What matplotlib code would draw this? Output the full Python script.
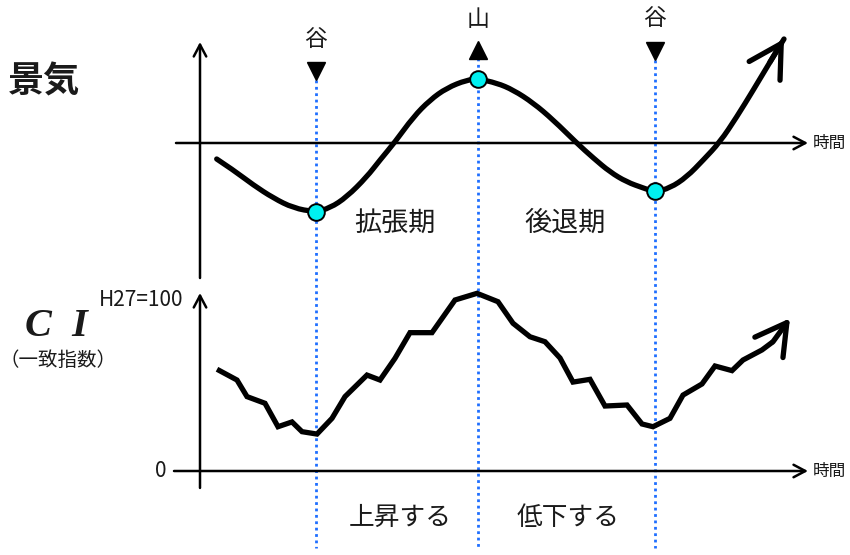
import matplotlib
matplotlib.use('Agg')
import matplotlib.pyplot as plt
from matplotlib.path import Path
from matplotlib.patches import PathPatch

plt.rcParams['font.family'] = ['Noto Sans CJK JP', 'DejaVu Sans']

# ---- data ----
# business-cycle curve: time, level (0 = time axis)
keiki_t = [1.67, 3.33, 5.33, 7.33, 9.33, 11.5, 13.0, 14.67, 16.67, 18.0, 19.5, 21.33,
           23.0, 24.67, 26.67, 27.83, 29.67, 31.33, 33.33, 35.33, 37.67, 39.33, 41.0,
           42.67, 44.33, 45.5, 47.0, 48.67, 50.33, 52.0, 53.67, 55.33, 57.0, 58.4]
keiki_v = [-0.16, -0.27, -0.42, -0.55, -0.65, -0.69, -0.65, -0.54, -0.34, -0.17, 0.01, 0.26,
           0.43, 0.55, 0.63, 0.64, 0.60, 0.53, 0.40, 0.23, 0.00, -0.15, -0.29,
           -0.39, -0.45, -0.49, -0.45, -0.34, -0.17, 0.01, 0.26, 0.53, 0.81, 1.04]

# CI (coincident index), H27 = 100
ci_t = [1.7, 3.7, 4.7, 6.5, 7.8, 9.2, 10.2, 11.7, 13.2, 14.5, 16.7, 18.0, 19.5, 21.0,
        23.2, 25.5, 27.7, 29.8, 31.3, 33.0, 34.5, 36.0, 37.3, 39.0, 40.5, 42.7, 44.2,
        45.3, 47.0, 48.3, 50.2, 51.5, 53.2, 54.3, 56.2, 57.3, 59.0]
ci_v = [59.5, 53.2, 43.5, 39.6, 25.9, 28.7, 23.0, 21.6, 30.8, 43.5, 56.1, 53.2, 65.9, 80.9,
        80.9, 100.0, 103.9, 99.0, 86.4, 78.5, 75.6, 66.1, 52.0, 53.6, 38.0, 38.6, 27.5,
        25.9, 30.8, 44.4, 50.9, 61.4, 58.7, 64.9, 70.8, 75.6, 89.3]

# turning points
turn_t = [11.6, 27.8, 45.5]
turn_level = [-0.69, 0.64, -0.48]
turn_labels = ['谷', '山', '谷']
turn_marker = ['v', '^', 'v']

ci_ticks = [0, 100]
ci_ticklabels = ['0', 'H27=100']

W, H = 850, 555
fig = plt.figure(figsize=(W / 100, H / 100), dpi=100)
fig.patch.set_facecolor('white')


def px(x, y):
    return x / W, 1 - y / H


ax1 = fig.add_axes([0, 0, 1, 1])
ax1.set_xlim(-20, 65)
ax1.set_ylim(-4.12, 1.43)
ax1.axis('off')
ax1.patch.set_alpha(0)

ax2 = fig.add_axes([0, 0, 1, 1])
ax2.set_xlim(-20, 65)
ax2.set_ylim(-49.12, 275.44)
ax2.axis('off')
ax2.patch.set_alpha(0)


def axis_arrow(ax, start, end, lw=1.8):
    ax.annotate('', xy=end, xytext=start,
                arrowprops=dict(arrowstyle='->,head_length=0.85,head_width=0.45',
                                lw=lw, color='black', shrinkA=0, shrinkB=0,
                                mutation_scale=10))


def smooth_path(xs, ys):
    pts = list(zip(xs, ys))
    verts = [pts[0]]
    codes = [Path.MOVETO]
    for i in range(1, len(pts) - 2):
        mid = ((pts[i][0] + pts[i + 1][0]) / 2, (pts[i][1] + pts[i + 1][1]) / 2)
        verts += [pts[i], mid]
        codes += [Path.CURVE3, Path.CURVE3]
    verts += [pts[-2], pts[-1]]
    codes += [Path.CURVE3, Path.CURVE3]
    return Path(verts, codes)


TXT = '#1a1a1a'

# ---- top panel: 景気 ----
axis_arrow(ax1, (0, -1.35), (0, 1.01))
axis_arrow(ax1, (-2.4, 0), (60.8, 0))
ax1.text(61.3, 0, '時間', ha='left', va='center', fontsize=12, color=TXT)

# dotted turning-point lines
line_top = [0.63, 0.85, 0.83]
for t, top in zip(turn_t, line_top):
    ax1.plot([t, t], [top, -4.05], linestyle=(0, (1, 1.3)), lw=2.0,
             color='#1f6fff', zorder=1)

patch = PathPatch(smooth_path(keiki_t, keiki_v), facecolor='none', edgecolor='black',
                  lw=3.8, capstyle='round', joinstyle='round', zorder=3)
ax1.add_patch(patch)
ax1.annotate('', xy=(keiki_t[-1], keiki_v[-1]), xytext=(keiki_t[-2], keiki_v[-2]),
             arrowprops=dict(arrowstyle='->,head_length=2.3,head_width=1.3', lw=3.8,
                             color='black', shrinkA=0, shrinkB=0, mutation_scale=10,
                             capstyle='round', joinstyle='miter'), zorder=3)

ax1.plot(turn_t, turn_level, 'o', ms=12, mfc='#00f0f0', mec='black', mew=1.4, zorder=5)

tri_y = [0.72, 0.93, 0.92]
lab_y = [40, 19, 19]
for t, m, ty, lab, ly in zip(turn_t, turn_marker, tri_y, turn_labels, lab_y):
    ax1.plot([t], [ty], m, ms=12.5, color='black', zorder=4)
    x_px = 200 + 10 * t
    fig.text(*px(x_px, ly), lab, ha='center', va='center', fontsize=16.5, color=TXT)

fig.text(*px(8, 82), '景気', ha='left', va='center', fontsize=26, fontweight='bold',
         color=TXT)
fig.text(*px(395, 223), '拡張期', ha='center', va='center', fontsize=19.5, color=TXT)
fig.text(*px(565, 223), '後退期', ha='center', va='center', fontsize=19.5, color=TXT)

# ---- bottom panel: CI ----
axis_arrow(ax2, (0, -9.9), (0, 104.1))
axis_arrow(ax2, (-2.6, 0), (60.8, 0))
ax2.text(61.3, 0, '時間', ha='left', va='center', fontsize=12, color=TXT)
tick_right = [-3.4, -1.7]
for v, lab, xr in zip(ci_ticks, ci_ticklabels, tick_right):
    ax2.text(xr, v, lab, ha='right', va='center', fontsize=15, color=TXT)

ax2.plot(ci_t[:-1], ci_v[:-1], color='black', lw=3.8, solid_joinstyle='miter',
         solid_capstyle='butt', zorder=3)
ax2.annotate('', xy=(ci_t[-1], ci_v[-1]), xytext=(ci_t[-2], ci_v[-2]),
             arrowprops=dict(arrowstyle='->,head_length=2.2,head_width=1.25', lw=3.8,
                             color='black', shrinkA=0, shrinkB=0, mutation_scale=10),
             zorder=3)

fig.text(*px(25, 326), 'C  I', ha='left', va='center', fontsize=29, fontweight='bold',
         fontstyle='italic', family=['Liberation Serif', 'DejaVu Serif'], color=TXT)
fig.text(*px(58, 360), '（一致指数）', ha='center', va='center', fontsize=14,
         color=TXT)
fig.text(*px(400, 518), '上昇する', ha='center', va='center', fontsize=18.5, color=TXT)
fig.text(*px(568, 518), '低下する', ha='center', va='center', fontsize=18.5, color=TXT)

fig.savefig('out.png', dpi=100, facecolor='white')
